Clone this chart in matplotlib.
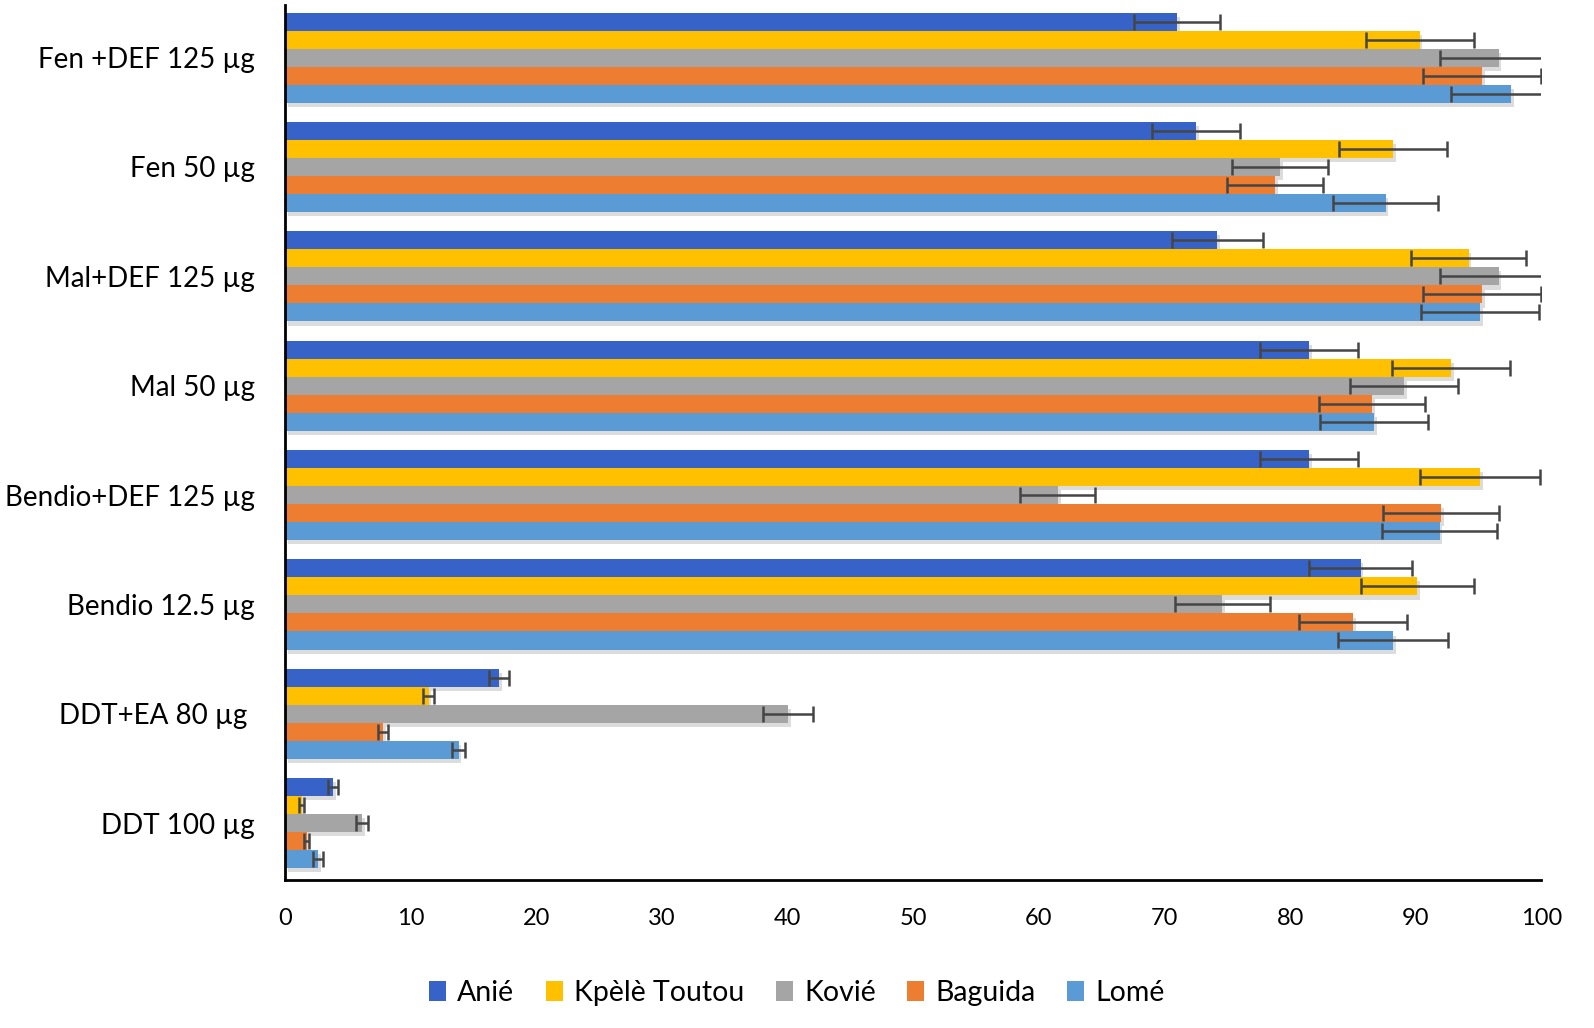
import matplotlib.pyplot as plt
import matplotlib.patheffects as pe
from matplotlib.patches import Patch
import numpy as np

plt.rcParams['font.family'] = ['Lato', 'DejaVu Sans']

categories = ["Fen +DEF 125 µg", "Fen 50 µg", "Mal+DEF 125 µg", "Mal 50 µg",
              "Bendio+DEF 125 µg", "Bendio 12.5 µg", "DDT+EA 80 µg ", "DDT 100 µg"]
sites = ["Anié", "Kpèlè Toutou", "Kovié", "Baguida", "Lomé"]

# mortalite (%) par site, dans l'ordre des categories
anie = [71.0, 72.5, 74.2, 81.5, 81.5, 85.6, 17.0, 3.8]
kpele = [90.3, 88.2, 94.2, 92.8, 95.1, 90.1, 11.4, 1.3]
kovie = [96.6, 79.2, 96.6, 89.1, 61.5, 74.6, 40.0, 6.1]
baguida = [95.3, 78.8, 95.3, 86.5, 92.0, 85.0, 7.8, 1.7]
lome = [97.6, 87.6, 95.1, 86.7, 91.9, 88.2, 13.8, 2.6]

# erreurs
err_anie = [3.4, 3.5, 3.6, 3.9, 3.9, 4.1, 0.8, 0.4]
err_kpele = [4.3, 4.3, 4.6, 4.7, 4.8, 4.5, 0.4, 0.2]
err_kovie = [4.7, 3.8, 4.7, 4.3, 3.0, 3.8, 2.0, 0.5]
err_baguida = [4.7, 3.8, 4.7, 4.2, 4.6, 4.3, 0.4, 0.2]
err_lome = [4.8, 4.2, 4.7, 4.3, 4.6, 4.4, 0.5, 0.4]

valeurs = [anie, kpele, kovie, baguida, lome]
erreurs = [err_anie, err_kpele, err_kovie, err_baguida, err_lome]
couleurs = ["#3763C8", "#FFC000", "#A5A5A5", "#ED7D31", "#5B9BD5"]

fig = plt.figure(figsize=(15.94, 10.28), dpi=100)
ax = fig.add_axes([0.179, 0.144, 0.788, 0.851])

y = np.arange(len(categories))
h = 0.165
ombre = [pe.SimplePatchShadow(offset=(2, -3), alpha=0.22, shadow_rgbFace="#606060"), pe.Normal()]
for j in range(len(sites)):
    pos = y + (j - 2) * h
    bars = ax.barh(pos, valeurs[j], height=h, color=couleurs[j], zorder=2)
    for b in bars:
        b.set_path_effects(ombre)
    ax.errorbar(valeurs[j], pos, xerr=erreurs[j], fmt="none", ecolor="#454545",
                elinewidth=1.8, capsize=6, capthick=1.8, zorder=3)

ax.set_xlim(0, 100)
ax.set_ylim(7.52, -0.48)
ax.set_xticks(np.arange(0, 101, 10))
ax.set_yticks(y)
ax.set_yticklabels(categories, fontsize=20)
ax.tick_params(axis="x", length=0, pad=20, labelsize=17)
ax.tick_params(axis="y", length=0, pad=22)
for s in ["top", "right"]:
    ax.spines[s].set_visible(False)
for s in ["left", "bottom"]:
    ax.spines[s].set_linewidth(2)
    ax.spines[s].set_color("black")

poignees = [Patch(facecolor=c, label=s) for c, s in zip(couleurs, sites)]
fig.legend(handles=poignees, loc="center", bbox_to_anchor=(0.5, 0.034), ncol=5, frameon=False,
           fontsize=20.5, handlelength=0.6, handleheight=0.7, columnspacing=1.1, handletextpad=0.4)

plt.savefig("out.png", dpi=100)
